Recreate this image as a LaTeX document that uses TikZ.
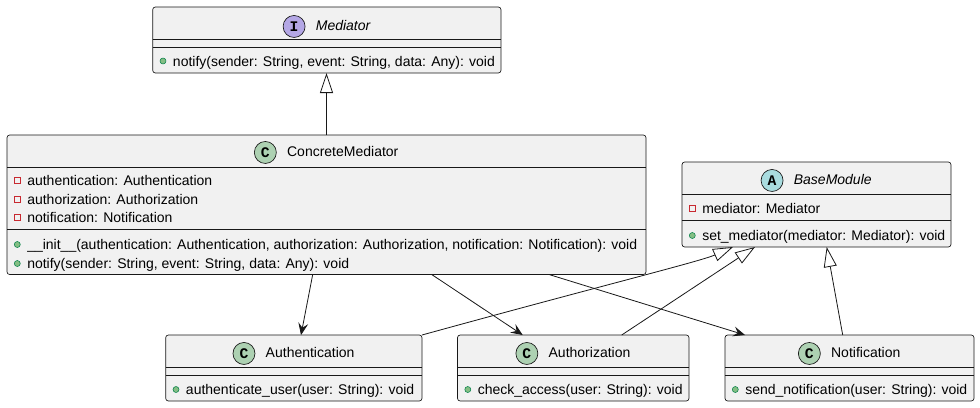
\documentclass[tikz,border=0pt]{standalone}
\usepackage{fontspec}
\setmainfont{Liberation Sans}
\newfontfamily\spotfont{Liberation Mono}
\usetikzlibrary{arrows.meta,fit,calc}
\definecolor{boxfill}{HTML}{F1F1F1}
\definecolor{lc}{HTML}{181818}
\definecolor{cgreen}{HTML}{ADD1B2}
\definecolor{ipurple}{HTML}{B4A7E5}
\definecolor{acyan}{HTML}{A9DCDF}
\definecolor{dotfill}{HTML}{84BE84}
\definecolor{dotline}{HTML}{038048}
\definecolor{privred}{HTML}{C82930}
\begin{document}
\begin{tikzpicture}[x=0.75pt,y=-0.75pt,
  cls/.style={draw=lc, fill=boxfill, line width=0.5pt, rounded corners=2pt, inner sep=0pt, outer sep=0pt},
  sepline/.style={draw=lc, line width=0.5pt},
  txt/.style={font=\fontsize{10.5}{12}\selectfont, inner sep=0pt, text height=7.6pt, text depth=2.2pt, yshift=-1.1pt},
  mem/.style={txt, anchor=west},
  hdr/.style={txt, anchor=center},
  spot/.style={circle, draw=lc, line width=0.5pt, minimum size=16.5pt, inner sep=0pt, font=\spotfont\bfseries\fontsize{11}{11}\selectfont},
  pub/.style={circle, draw=dotline, fill=dotfill, line width=0.4pt, minimum size=4.5pt, inner sep=0pt},
  priv/.style={rectangle, draw=privred, line width=0.5pt, minimum size=4.5pt, inner sep=0pt},
  ext/.style={draw=lc, line width=0.6pt, -{Triangle[length=15pt,width=9.75pt,fill=white]}},
  assoc/.style={draw=lc, line width=0.6pt, -{Stealth[length=9pt,width=7.5pt,inset=3.5pt]}}
]
\useasboundingbox[fill=white] (0,0) rectangle (980,407);

% ---------- Mediator ----------
\node[cls, fit={(152.7,7) (501,73)}] (med) {};
\draw[sepline] (med.west |- 0,39) -- (med.east |- 0,39);
\draw[sepline] (med.west |- 0,47) -- (med.east |- 0,47);
\node[hdr] (medn) at (343.1,25) {\itshape Mediator};
\node[spot, fill=ipurple] (meds) at ($(medn.west)+(-21.5,0)$) {I};
\node[pub] (medm1d) at (163,61) {};
\node[mem] (medm1) at (172.7,61) {notify(sender: String, event: String, data: Any): void};

% ---------- ConcreteMediator ----------
\node[cls, fit={(7,135) (646,274.5)}] (cm) {};
\draw[sepline] (cm.west |- 0,167) -- (cm.east |- 0,167);
\draw[sepline] (cm.west |- 0,229) -- (cm.east |- 0,229);
\node[hdr] (cmn) at (342.75,151) {ConcreteMediator};
\node[spot, fill=cgreen] (cms) at ($(cmn.west)+(-21.5,0)$) {C};
\node[priv] (cma1d) at (17.3,180.5) {};
\node[mem] (cma1) at (27,180.5) {authentication: Authentication};
\node[priv] (cma2d) at (17.3,199.3) {};
\node[mem] (cma2) at (27,199.3) {authorization: Authorization};
\node[priv] (cma3d) at (17.3,217.7) {};
\node[mem] (cma3) at (27,217.7) {notification: Notification};
\node[pub] (cmm1d) at (17.3,244.5) {};
\node[mem] (cmm1) at (27,244.5) {\_\_init\_\_(authentication: Authentication, authorization: Authorization, notification: Notification): void};
\node[pub] (cmm2d) at (17.3,263.5) {};
\node[mem] (cmm2) at (27,263.5) {notify(sender: String, event: String, data: Any): void};

% ---------- BaseModule ----------
\node[cls, fit={(682,162) (951,247)}] (base) {};
\draw[sepline] (base.west |- 0,194) -- (base.east |- 0,194);
\draw[sepline] (base.west |- 0,220) -- (base.east |- 0,220);
\node[hdr] (basen) at (832.75,179) {\itshape BaseModule};
\node[spot, fill=acyan] (bases) at ($(basen.west)+(-21.5,0)$) {A};
\node[priv] (basea1d) at (692.3,208.5) {};
\node[mem] (basea1) at (702,208.5) {mediator: Mediator};
\node[pub] (basem1d) at (692.3,235.5) {};
\node[mem] (basem1) at (702,235.5) {set\_mediator(mediator: Mediator): void};

% ---------- Authentication ----------
\node[cls, fit={(165.7,335) (422,401)}] (auth) {};
\draw[sepline] (auth.west |- 0,367) -- (auth.east |- 0,367);
\draw[sepline] (auth.west |- 0,375) -- (auth.east |- 0,375);
\node[hdr] (authn) at (310.1,352) {Authentication};
\node[spot, fill=cgreen] (auths) at ($(authn.west)+(-21.5,0)$) {C};
\node[pub] (authm1d) at (176,389.5) {};
\node[mem] (authm1) at (185.7,389.5) {authenticate\_user(user: String): void};

% ---------- Authorization ----------
\node[cls, fit={(457.5,335) (689,401)}] (authz) {};
\draw[sepline] (authz.west |- 0,367) -- (authz.east |- 0,367);
\draw[sepline] (authz.west |- 0,375) -- (authz.east |- 0,375);
\node[hdr] (authzn) at (589.5,352) {Authorization};
\node[spot, fill=cgreen] (authzs) at ($(authzn.west)+(-21.5,0)$) {C};
\node[pub] (authzm1d) at (467.8,389.5) {};
\node[mem] (authzm1) at (477.5,389.5) {check\_access(user: String): void};

% ---------- Notification ----------
\node[cls, fit={(725,335) (974,401)}] (notif) {};
\draw[sepline] (notif.west |- 0,367) -- (notif.east |- 0,367);
\draw[sepline] (notif.west |- 0,375) -- (notif.east |- 0,375);
\node[hdr] (notifn) at (865.75,352) {Notification};
\node[spot, fill=cgreen] (notifs) at ($(notifn.west)+(-21.5,0)$) {C};
\node[pub] (notifm1d) at (735.3,389.5) {};
\node[mem] (notifm1) at (745,389.5) {send\_notification(user: String): void};

% ---------- Connectors ----------
\draw[ext] (cm.north) -- (cm.north |- med.south);
\draw[assoc] ($(cm.south west)+(305.7,0)$) -- ($(auth.north west)+(135.3,0)$);
\draw[assoc] ($(cm.south west)+(424.7,0)$) -- ($(authz.north west)+(65.2,0)$);
\draw[assoc] ($(cm.south west)+(542,0)$) -- ($(notif.north west)+(20,0)$);
\draw[ext] (auth.north east) .. controls (600,286) and (700,261.5) .. ($(base.south west)+(51,0)$);
\draw[ext] ($(authz.north west)+(164.2,0)$) -- ($(base.south west)+(73,0)$);
\draw[ext] ($(notif.north west)+(117.7,0)$) -- ($(base.south west)+(144.7,0)$);
\end{tikzpicture}
\end{document}
